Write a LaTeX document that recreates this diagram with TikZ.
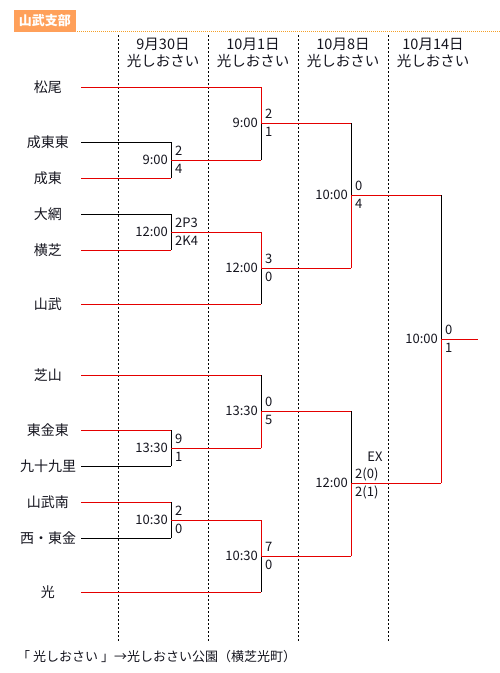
\documentclass[tikz,border=0pt]{standalone}
\usepackage{fontspec}
\setmainfont{Noto Sans CJK JP}
\definecolor{wred}{RGB}{228,0,0}
\definecolor{hdrbg}{RGB}{255,160,90}
\definecolor{dotor}{RGB}{245,160,40}
\definecolor{ink}{RGB}{20,20,30}
\begin{document}
\begin{tikzpicture}[x=1pt,y=-1pt,
  team/.style={font=\fontsize{14}{15}\selectfont, text=ink, inner sep=0pt},
  hd/.style={font=\fontsize{14.5}{15}\selectfont, text=ink, inner sep=0pt},
  sc/.style={font=\fontsize{13}{14}\selectfont, text=ink, inner sep=0pt, anchor=west},
  tm/.style={font=\fontsize{13}{14}\selectfont, text=ink, inner sep=0pt, anchor=east},
  win/.style={draw=wred, line width=1pt},
  lose/.style={draw=black, line width=1pt},
  col/.style={draw=black, line width=1pt, dash pattern=on 2pt off 2pt}]
\useasboundingbox (0,0) rectangle (500,673);

% header
\node[fill=hdrbg, minimum width=62pt, minimum height=22pt, inner sep=0pt,
      text=white, font=\bfseries\fontsize{13}{14}\selectfont] (hdr) at (45,21) {山武支部};
\coordinate (hl) at (77,31.5);
\coordinate (hr) at (500,31.5);
\draw[draw=dotor, line width=1pt, dash pattern=on 1pt off 1pt] (hl) -- (hr);

% column separators
\foreach \i/\x in {1/118,2/208,3/298,4/388}{
  \coordinate (ct\i) at (\x,35);
  \coordinate (cb\i) at (\x,641);
  \draw[col] (ct\i) -- (cb\i);
}

% column headings
\node[hd] (d1) at (163,44) {9月30日};
\node[hd] (p1) at (163,61) {光しおさい};
\node[hd] (d2) at (253,44) {10月1日};
\node[hd] (p2) at (253,61) {光しおさい};
\node[hd] (d3) at (343,44) {10月8日};
\node[hd] (p3) at (343,61) {光しおさい};
\node[hd] (d4) at (433,44) {10月14日};
\node[hd] (p4) at (433,61) {光しおさい};

% teams
\foreach \i/\y/\n in {1/87/松尾,2/142/成東東,3/178/成東,4/214/大網,5/250/横芝,6/304/山武,
                      7/375/芝山,8/430/東金東,9/466/九十九里,10/502/山武南,11/538/西・東金,12/592/光}{
  \node[team] (t\i) at (48,\y) {\n};
  \coordinate (L\i) at (81,\y);
}

% match centres
\coordinate (m1) at (171,160);
\coordinate (m2) at (171,232);
\coordinate (m3) at (171,448);
\coordinate (m4) at (171,520);
\coordinate (m5) at (261,123);
\coordinate (m6) at (261,268);
\coordinate (m7) at (261,411);
\coordinate (m8) at (261,556);
\coordinate (m9) at (351,195);
\coordinate (m10) at (351,483);
\coordinate (m11) at (441,339);
\coordinate (fin) at (478,339);

% round 1 (verticals black)
\draw[lose] (L2) -- (L2 -| m1);
\draw[win] (L3) -- (L3 -| m1);
\draw[lose] (L2 -| m1) -- (L3 -| m1);
\draw[lose] (L4) -- (L4 -| m2);
\draw[win] (L5) -- (L5 -| m2);
\draw[lose] (L4 -| m2) -- (L5 -| m2);
\draw[win] (L8) -- (L8 -| m3);
\draw[lose] (L9) -- (L9 -| m3);
\draw[lose] (L8 -| m3) -- (L9 -| m3);
\draw[win] (L10) -- (L10 -| m4);
\draw[lose] (L11) -- (L11 -| m4);
\draw[lose] (L10 -| m4) -- (L11 -| m4);

% byes
\draw[win] (L1) -- (L1 -| m5);
\draw[win] (L6) -- (L6 -| m6);
\draw[win] (L7) -- (L7 -| m7);
\draw[win] (L12) -- (L12 -| m8);

% round 1 winners to round 2
\draw[win] (m1) -- (m1 -| m5);
\draw[win] (m2) -- (m2 -| m6);
\draw[win] (m3) -- (m3 -| m7);
\draw[win] (m4) -- (m4 -| m8);

% round 2 verticals
\draw[lose] (m1 -| m5) -- (m5);
\draw[win] (L1 -| m5) -- (m5);
\draw[lose] (L6 -| m6) -- (m6);
\draw[win] (m2 -| m6) -- (m6);
\draw[lose] (L7 -| m7) -- (m7);
\draw[win] (m3 -| m7) -- (m7);
\draw[lose] (L12 -| m8) -- (m8);
\draw[win] (m4 -| m8) -- (m8);

% round 2 winners to round 3
\draw[win] (m5) -- (m5 -| m9);
\draw[win] (m6) -- (m6 -| m9);
\draw[win] (m7) -- (m7 -| m10);
\draw[win] (m8) -- (m8 -| m10);

% round 3 verticals
\draw[lose] (m5 -| m9) -- (m9);
\draw[win] (m6 -| m9) -- (m9);
\draw[lose] (m7 -| m10) -- (m10);
\draw[win] (m8 -| m10) -- (m10);

% to final
\draw[win] (m9) -- (m9 -| m11);
\draw[win] (m10) -- (m10 -| m11);
\draw[lose] (m9 -| m11) -- (m11);
\draw[win] (m10 -| m11) -- (m11);
\draw[win] (m11) -- (fin);

% times
\node[tm] (k1) at ([xshift=-3pt]m1) {9:00};
\node[tm] (k2) at ([xshift=-3pt]m2) {12:00};
\node[tm] (k3) at ([xshift=-3pt]m3) {13:30};
\node[tm] (k4) at ([xshift=-3pt]m4) {10:30};
\node[tm] (k5) at ([xshift=-3pt]m5) {9:00};
\node[tm] (k6) at ([xshift=-3pt]m6) {12:00};
\node[tm] (k7) at ([xshift=-3pt]m7) {13:30};
\node[tm] (k8) at ([xshift=-3pt]m8) {10:30};
\node[tm] (k9) at ([xshift=-3pt]m9) {10:00};
\node[tm] (k10) at ([xshift=-3pt]m10) {12:00};
\node[tm] (k11) at ([xshift=-3pt]m11) {10:00};

% scores
\foreach \m/\a/\b in {m1/2/4, m2/2P3/2K4, m3/9/1, m4/2/0, m5/2/1, m6/3/0, m7/0/5, m8/7/0, m9/0/4, m11/0/1}{
  \node[sc] (\m a) at ([xshift=4pt,yshift=9pt]\m) {\a};
  \node[sc] (\m b) at ([xshift=4pt,yshift=-9pt]\m) {\b};
}
\node[sc] (m10a) at ([xshift=4pt,yshift=9pt]m10) {2(0)};
\node[sc] (m10b) at ([xshift=4pt,yshift=-9pt]m10) {2(1)};
\node[sc, anchor=center] (ex) at (375,457) {EX};

% footnote
\node[font=\fontsize{13}{14}\selectfont, text=ink, inner sep=0pt, anchor=west] (note) at (17,657)
  {「 光しおさい 」→光しおさい公園（横芝光町）};
\end{tikzpicture}
\end{document}
